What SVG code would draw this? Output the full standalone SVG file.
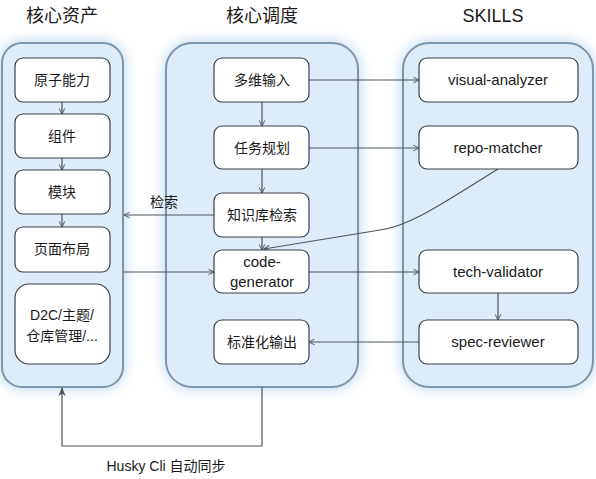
<svg xmlns="http://www.w3.org/2000/svg" width="596" height="479" viewBox="0 0 596 479">
<defs>
<style>
text{font-family:"Liberation Sans","Noto Sans CJK SC",sans-serif;fill:#1a1a1a;text-anchor:middle}
.title{font-size:18px}
.lbl{font-size:14px}
.en{font-size:15px}
.cont{fill:#deebf8;stroke:#7d95ad;stroke-width:2}
.node{fill:#ffffff;stroke:#3a3f45;stroke-width:1.2}
.edge{fill:none;stroke:#4d5660;stroke-width:1.2}
</style>
<filter id="glow" x="-20%" y="-20%" width="140%" height="140%">
<feFlood flood-color="#5b9bd5" flood-opacity="0.45"/>
<feComposite operator="in" in2="SourceAlpha"/>
<feGaussianBlur stdDeviation="7" result="b"/>
<feMerge><feMergeNode in="b"/><feMergeNode in="SourceGraphic"/></feMerge>
</filter>
<marker id="open" viewBox="0 0 10 10" refX="9" refY="5" markerWidth="7" markerHeight="7" orient="auto-start-reverse" markerUnits="userSpaceOnUse">
<path d="M1,1 L9,5 L1,9" fill="none" stroke="#4d5660" stroke-width="1.4"/>
</marker>
<marker id="solid" viewBox="0 0 10 10" refX="9" refY="5" markerWidth="9" markerHeight="9" orient="auto" markerUnits="userSpaceOnUse">
<path d="M0,1 L10,5 L0,9 L3,5 Z" fill="#4d5660"/>
</marker>
</defs>

<rect width="596" height="479" fill="#ffffff"/>

<g id="titles">
<text class="title" x="62" y="22">核心资产</text>
<text class="title" x="262" y="22">核心调度</text>
<text class="title" x="493" y="22">SKILLS</text>
</g>

<g id="containers" filter="url(#glow)">
<rect id="core-assets" class="cont" x="2" y="43" width="121" height="344" rx="20"/>
<rect id="core-dispatch" class="cont" x="166" y="43" width="192" height="344" rx="26"/>
<rect id="skills" class="cont" x="403" y="43" width="190" height="344" rx="26"/>
</g>

<g id="connectors">
<path class="edge" d="M62,102 V114" marker-end="url(#open)"/>
<path class="edge" d="M62,158 V170" marker-end="url(#open)"/>
<path class="edge" d="M62,214 V227" marker-end="url(#open)"/>
<path class="edge" d="M309,80 H419" marker-end="url(#open)"/>
<path class="edge" d="M262,102 V126" marker-end="url(#open)"/>
<path class="edge" d="M309,148 H419" marker-end="url(#open)"/>
<path class="edge" d="M262,169 V193" marker-end="url(#open)"/>
<path class="edge" d="M214,215 H124" marker-end="url(#open)"/>
<path class="edge" d="M262,237 V250" marker-end="url(#open)"/>
<path class="edge" d="M498,169 C440,205 410,226 380,230 L264,249" marker-end="url(#open)"/>
<path class="edge" d="M123,272 H214" marker-end="url(#open)"/>
<path class="edge" d="M309,272 H419" marker-end="url(#open)"/>
<path class="edge" d="M498,293 V320" marker-end="url(#open)"/>
<path class="edge" d="M419,342 H309" marker-end="url(#open)"/>
<path class="edge" d="M262,387 V446 H62 V388" marker-end="url(#solid)"/>
<text class="lbl" x="164" y="207">检索</text>
<text class="lbl" x="166" y="471">Husky Cli 自动同步</text>
</g>

<g id="n-atom"><rect class="node" x="15" y="58" width="95" height="44" rx="8"/><text class="lbl" x="62" y="85">原子能力</text></g>
<g id="n-component"><rect class="node" x="15" y="114" width="95" height="44" rx="8"/><text class="lbl" x="62" y="141">组件</text></g>
<g id="n-module"><rect class="node" x="15" y="170" width="95" height="44" rx="8"/><text class="lbl" x="62" y="197">模块</text></g>
<g id="n-layout"><rect class="node" x="15" y="227" width="95" height="45" rx="8"/><text class="lbl" x="62" y="254">页面布局</text></g>
<g id="n-d2c"><rect class="node" x="15" y="284" width="95" height="80" rx="14"/><text class="lbl" x="62" y="320">D2C/主题/</text><text class="lbl" x="62" y="341">仓库管理/...</text></g>

<g id="n-input"><rect class="node" x="214" y="58" width="95" height="44" rx="8"/><text class="lbl" x="262" y="85">多维输入</text></g>
<g id="n-plan"><rect class="node" x="214" y="126" width="95" height="43" rx="8"/><text class="lbl" x="262" y="153">任务规划</text></g>
<g id="n-kb"><rect class="node" x="214" y="193" width="95" height="44" rx="8"/><text class="lbl" x="262" y="220">知识库检索</text></g>
<g id="n-codegen"><rect class="node" x="214" y="250" width="95" height="43" rx="8"/><text class="en" x="262" y="267">code-</text><text class="en" x="262" y="287">generator</text></g>
<g id="n-output"><rect class="node" x="214" y="320" width="95" height="44" rx="8"/><text class="lbl" x="262" y="347">标准化输出</text></g>

<g id="n-visual"><rect class="node" x="419" y="58" width="159" height="44" rx="8"/><text class="en" x="498" y="85">visual-analyzer</text></g>
<g id="n-repo"><rect class="node" x="419" y="126" width="159" height="43" rx="8"/><text class="en" x="498" y="153">repo-matcher</text></g>
<g id="n-tech"><rect class="node" x="419" y="250" width="159" height="43" rx="8"/><text class="en" x="498" y="277">tech-validator</text></g>
<g id="n-spec"><rect class="node" x="419" y="320" width="159" height="44" rx="8"/><text class="en" x="498" y="347">spec-reviewer</text></g>
</svg>
